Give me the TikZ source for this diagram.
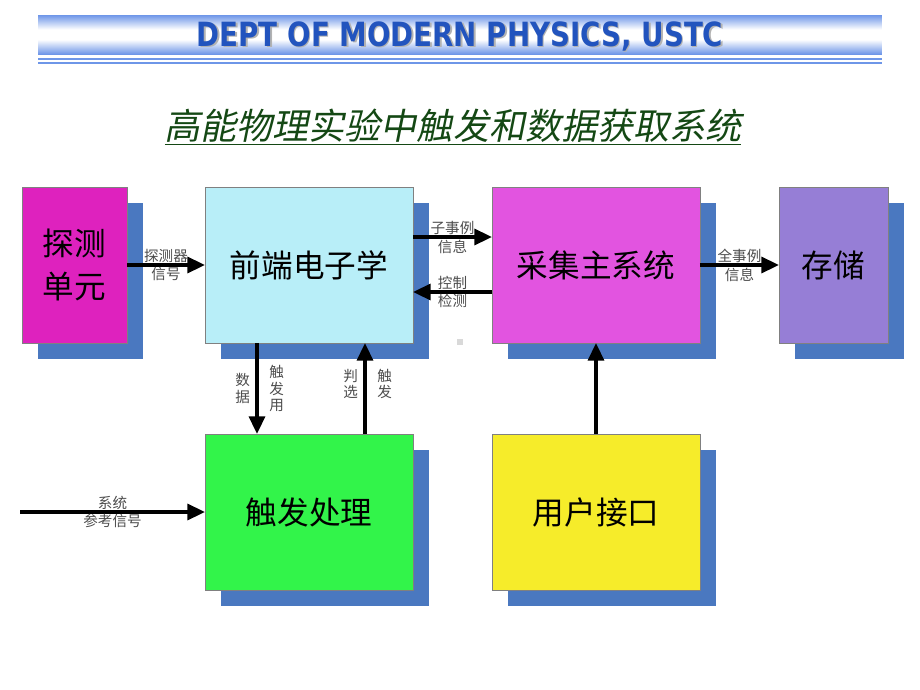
\documentclass[tikz,border=0pt]{standalone}
\usepackage{fontspec}
\setmainfont{Liberation Sans}
\newfontfamily\cjk{Noto Sans CJK SC}
\newfontfamily\cjkslant[FakeSlant=0.2]{Noto Sans CJK SC}
\newfontfamily\hdfont{DejaVu Sans}
\usepackage{tikz}
\usetikzlibrary{positioning,calc,backgrounds,arrows.meta}

\definecolor{detcol}{RGB}{222,34,190}
\definecolor{feecol}{RGB}{184,238,248}
\definecolor{daqcol}{RGB}{226,84,224}
\definecolor{stocol}{RGB}{150,126,214}
\definecolor{trgcol}{RGB}{50,244,74}
\definecolor{usrcol}{RGB}{246,236,42}
\definecolor{shadecol}{RGB}{74,120,192}
\definecolor{bandcol}{RGB}{110,150,232}
\definecolor{deptcol}{RGB}{34,84,190}
\definecolor{titlecol}{RGB}{20,72,20}

\tikzset{
  blk/.style={draw=gray, line width=0.4pt, inner sep=0pt, outer sep=0pt,
    minimum width=4.16cm, minimum height=3.12cm, align=center,
    font=\cjk\fontsize{18}{24}\selectfont},
  bigarr/.style={line width=2pt, -{Triangle[length=10pt,width=9pt]}},
  lbl/.style={font=\cjk\fontsize{8.3}{9.6}\selectfont, text=black!70,
    inner sep=1pt, align=center},
}

\begin{document}
\begin{tikzpicture}[x=0.02cm, y=-0.02cm]
\useasboundingbox (0,0) rectangle (920,690);

% header band, drawn strip by strip
\foreach \i in {0,...,39} {
  \pgfmathsetmacro{\mix}{min(100,max(0,abs(\i-19.5)-5)*6.9)}
  \fill[bandcol!\mix!white] (38,15+\i) rectangle (882,16.2+\i);
}
\draw[bandcol, line width=1pt] (38,59) -- (882,59);
\draw[bandcol, line width=1pt] (38,63) -- (882,63);
\node[xscale=0.83] (deptshadow) at (461.5,37.5) {\hdfont\bfseries\fontsize{19}{22}\selectfont\color{black!30}DEPT OF MODERN PHYSICS, USTC};
\node[xscale=0.83] (dept) at (460,36) {\hdfont\bfseries\fontsize{19}{22}\selectfont\color{deptcol}DEPT OF MODERN PHYSICS, USTC};

% title
\node (title) at (453,127) {\cjkslant\fontsize{20.5}{24}\selectfont\color{titlecol}\underline{高能物理实验中触发和数据获取系统}};

% blocks
\node[blk, fill=detcol, minimum width=2.1cm] (det) at (74.5,265) {探测\\单元};
\node[blk, fill=feecol] (fee) at (309,265) {前端电子学};
\node[blk, fill=daqcol] (daq) at (596,265) {采集主系统};
\node[blk, fill=stocol, minimum width=2.18cm] (sto) at (833.5,265) {存储};
\node[blk, fill=trgcol] (trg) at (309,512) {触发处理};
\node[blk, fill=usrcol] (usr) at (596,512) {用户接口};

% shadows
\begin{scope}[on background layer]
\foreach \n in {det,fee,daq,sto,trg,usr}
  \fill[shadecol] ($(\n.north west)+(16,16)$) rectangle ($(\n.south east)+(16,16)$);
\end{scope}

\fill[black!15] (457,339) rectangle (463,345);

% connectors
\draw[bigarr] (det) -- (fee)
  node[lbl, midway, above=-0.5pt] {探测器}
  node[lbl, midway, below=-0.5pt] {信号};
\draw[bigarr] ($(fee.east)+(0,-28)$) -- ($(daq.west)+(0,-28)$)
  node[lbl, midway, above=-0.5pt] {子事例}
  node[lbl, midway, below=-0.5pt] {信息};
\draw[bigarr] ($(daq.west)+(0,27)$) -- ($(fee.east)+(0,27)$)
  node[lbl, midway, above=-0.5pt] {控制}
  node[lbl, midway, below=-0.5pt] {检测};
\draw[bigarr] (daq) -- (sto)
  node[lbl, midway, above=-0.5pt] {全事例}
  node[lbl, midway, below=-0.5pt] {信息};
\draw[bigarr] ($(fee.south)+(-52,0)$) -- ($(trg.north)+(-52,0)$)
  node[lbl, pos=0.5, left=2pt] {数\\据}
  node[lbl, pos=0.5, right=5pt] {触\\发\\用};
\draw[bigarr] ($(trg.north)+(56,0)$) -- ($(fee.south)+(56,0)$)
  node[lbl, pos=0.55, left=2pt] {判\\选}
  node[lbl, pos=0.55, right=5pt] {触\\发};
\draw[bigarr] (usr) -- (daq);
\coordinate (ref) at (20,512);
\draw[bigarr] (ref) -- (trg.west)
  node[lbl, pos=0.5, above=-0.5pt] {系统}
  node[lbl, pos=0.5, below=-0.5pt] {参考信号};
\end{tikzpicture}
\end{document}
